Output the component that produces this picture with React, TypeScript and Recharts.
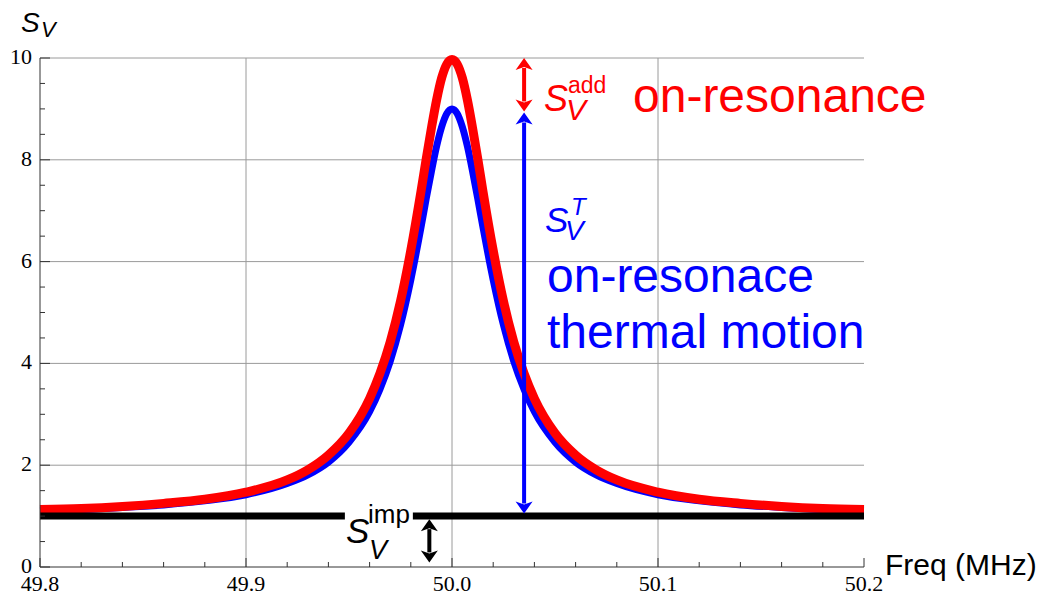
import React from "react";
import { ComposedChart, Line, XAxis, YAxis, CartesianGrid, ReferenceLine } from "recharts";

// frequency samples (MHz)
const freqs = [
  49.8, 49.82, 49.84, 49.86, 49.88, 49.9, 49.92, 49.93, 49.94, 49.95, 49.96, 49.965, 49.97, 49.975, 49.98,
  49.985, 49.9875, 49.99, 49.9925, 49.995, 49.9975, 50.0, 50.0025, 50.005, 50.0075, 50.01, 50.0125, 50.015,
  50.02, 50.025, 50.03, 50.035, 50.04, 50.05, 50.06, 50.07, 50.08, 50.1, 50.12, 50.14, 50.16, 50.18, 50.2,
];

// thermal motion (blue)
const thermal = [
  1.11, 1.13, 1.17, 1.22, 1.3, 1.42, 1.64, 1.81, 2.06, 2.45, 3.05, 3.49, 4.04, 4.75, 5.64,
  6.68, 7.24, 7.77, 8.26, 8.65, 8.91, 9.0, 8.91, 8.65, 8.26, 7.77, 7.24, 6.68,
  5.64, 4.75, 4.04, 3.49, 3.05, 2.45, 2.06, 1.81, 1.64, 1.42, 1.3, 1.22, 1.17, 1.13, 1.11,
];

// total on-resonance (red)
const total = [
  1.13, 1.15, 1.19, 1.25, 1.33, 1.47, 1.71, 1.91, 2.2, 2.63, 3.31, 3.8, 4.42, 5.22, 6.22,
  7.39, 8.02, 8.62, 9.17, 9.61, 9.88, 9.97, 9.88, 9.61, 9.17, 8.62, 8.02, 7.39,
  6.22, 5.22, 4.42, 3.8, 3.31, 2.63, 2.2, 1.91, 1.71, 1.47, 1.33, 1.25, 1.19, 1.15, 1.13,
];

const impLevel = 1;
const xTicks = [
  49.8, 49.82, 49.84, 49.86, 49.88, 49.9, 49.92, 49.94, 49.96, 49.98, 50.0,
  50.02, 50.04, 50.06, 50.08, 50.1, 50.12, 50.14, 50.16, 50.18, 50.2,
];
const yTicks = [0, 0.5, 1, 1.5, 2, 2.5, 3, 3.5, 4, 4.5, 5, 5.5, 6, 6.5, 7, 7.5, 8, 8.5, 9, 9.5, 10];
const gridX = [49.9, 50.0, 50.1];
const gridY = [2, 4, 6, 8, 10];

const data = freqs.map((f, i) => ({ f, thermal: thermal[i], total: total[i] }));

const SERIF = "'Liberation Serif', 'DejaVu Serif', serif";
const SANS = "'Liberation Sans', Arial, Helvetica, sans-serif";

const XTick = (props: any) => {
  const { x, y, payload } = props;
  const v = payload.value as number;
  const major = Math.abs(v * 10 - Math.round(v * 10)) < 1e-6;
  return (
    <g>
      <line x1={x} x2={x} y1={y} y2={y - (major ? 9 : 5)} stroke="#333" />
      {major && (
        <text x={x} y={y + 24} textAnchor="middle" fontFamily={SERIF} fontSize={22} fill="#000">
          {v.toFixed(1)}
        </text>
      )}
    </g>
  );
};

const YTick = (props: any) => {
  const { x, y, payload } = props;
  const v = payload.value as number;
  const major = Number.isInteger(v) && v % 2 === 0;
  return (
    <g>
      <line x1={x} x2={x + (major ? 10 : 5)} y1={y} y2={y} stroke="#333" />
      {major && (
        <text x={x - 8} y={y + 6} textAnchor="end" fontFamily={SERIF} fontSize={22} fill="#000">
          {v}
        </text>
      )}
    </g>
  );
};

const arrow = (color: string) => (p: any) => {
  const { x1, y1, x2, y2 } = p;
  const top = Math.min(y1, y2);
  const bot = Math.max(y1, y2);
  const x = x1;
  const hl = 12;
  const hw = 8.5;
  return (
    <g>
      <line x1={x} x2={x2} y1={top + hl - 2} y2={bot - hl + 2} stroke={color} strokeWidth={4} />
      <polygon points={`${x},${top} ${x - hw},${top + hl} ${x},${top + hl - 3} ${x + hw},${top + hl}`} fill={color} />
      <polygon points={`${x},${bot} ${x - hw},${bot - hl} ${x},${bot - hl + 3} ${x + hw},${bot - hl}`} fill={color} />
    </g>
  );
};

export default function App() {
  return (
    <div style={{ position: "absolute", left: 0, top: 0, width: 1042, height: 592, background: "#fff" }}>
      <ComposedChart width={1042} height={592} data={data} margin={{ top: 58, right: 178, bottom: 0, left: 0 }}>
        <CartesianGrid
          stroke="#9a9a9a"
          horizontalValues={gridY}
          verticalValues={gridX}
        />
        <XAxis
          dataKey="f"
          type="number"
          domain={[49.8, 50.2]}
          ticks={xTicks}
          interval={0}
          tick={<XTick />}
          tickLine={false}
          tickSize={0}
          tickMargin={0}
          height={25}
          axisLine={{ stroke: "#333" }}
        />
        <YAxis
          type="number"
          domain={[0, 10]}
          ticks={yTicks}
          interval={0}
          tick={<YTick />}
          tickLine={false}
          tickSize={0}
          tickMargin={0}
          width={40}
          axisLine={{ stroke: "#333" }}
        />
        <Line dataKey="thermal" type="monotone" stroke="#0000ff" strokeWidth={7} dot={false} isAnimationActive={false} />
        <Line dataKey="total" type="monotone" stroke="#ff0000" strokeWidth={9} dot={false} isAnimationActive={false} />
        <ReferenceLine segment={[{ x: 49.8, y: impLevel }, { x: 49.948, y: impLevel }]} stroke="#000" strokeWidth={7} />
        <ReferenceLine segment={[{ x: 49.981, y: impLevel }, { x: 50.2, y: impLevel }]} stroke="#000" strokeWidth={7} />
        <ReferenceLine segment={[{ x: 50.035, y: 10 }, { x: 50.035, y: 8.95 }]} shape={arrow("#ff0000")} />
        <ReferenceLine segment={[{ x: 50.035, y: 8.93 }, { x: 50.035, y: 1.05 }]} shape={arrow("#0000ff")} />
        <ReferenceLine segment={[{ x: 49.989, y: 0.94 }, { x: 49.989, y: 0.09 }]} shape={arrow("#000")} />
      </ComposedChart>
      <svg width={1042} height={592} style={{ position: "absolute", left: 0, top: 0, pointerEvents: "none" }}>
        <g fontFamily={SANS}>
          <text x={21} y={32} fontSize={28} fontStyle="italic">S</text>
          <text x={41} y={37} fontSize={22} fontStyle="italic">V</text>

          <text x={544} y={111} fontSize={36} fontStyle="italic" fill="#ff0000">S</text>
          <text x={566} y={120} fontSize={30} fontStyle="italic" fill="#ff0000">V</text>
          <text x={568} y={93} fontSize={23} fill="#ff0000">add</text>
          <text x={633} y={112} fontSize={48} fill="#ff0000">on-resonance</text>

          <text x={545} y={232} fontSize={35} fontStyle="italic" fill="#0000ff">S</text>
          <text x={565} y={240} fontSize={28} fontStyle="italic" fill="#0000ff">V</text>
          <text x={571} y={215} fontSize={24} fontStyle="italic" fill="#0000ff">T</text>
          <text x={547} y={292} fontSize={48} fill="#0000ff">on-resonace</text>
          <text x={547} y={348} fontSize={48} fill="#0000ff">thermal motion</text>

          <text x={346} y={543} fontSize={35} fontStyle="italic">S</text>
          <text x={369} y={559} fontSize={27} fontStyle="italic">V</text>
          <text x={368} y={523} fontSize={26}>imp</text>

          <text x={885} y={575} fontSize={30}>Freq (MHz)</text>
        </g>
      </svg>
    </div>
  );
}
